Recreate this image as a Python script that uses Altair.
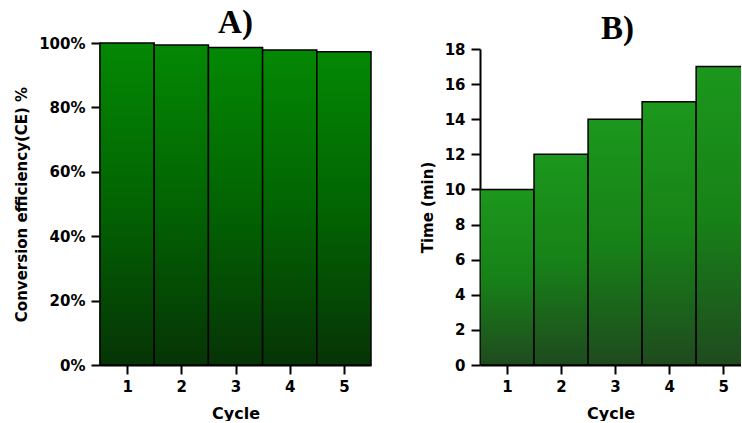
import altair as alt
import pandas as pd

cycles = [1, 2, 3, 4, 5]
efficiency = [1.000, 0.994, 0.986, 0.978, 0.973]
time_min = [10, 12, 14, 15, 17]
ticks_a = [0, 0.2, 0.4, 0.6, 0.8, 1.0]
ticks_b = [0, 2, 4, 6, 8, 10, 12, 14, 16, 18]

df_a = pd.DataFrame({"cycle": cycles, "ce": efficiency})
df_b = pd.DataFrame({"cycle": cycles, "time": time_min})

grad_a = alt.Gradient(
    gradient="linear", x1=0, x2=0, y1=0, y2=1,
    stops=[alt.GradientStop(color="#048804", offset=0),
           alt.GradientStop(color="#026402", offset=0.5),
           alt.GradientStop(color="#063406", offset=1)])
grad_b = alt.Gradient(
    gradient="linear", x1=0, x2=0, y1=0, y2=1,
    stops=[alt.GradientStop(color="#1c971c", offset=0),
           alt.GradientStop(color="#178217", offset=0.5),
           alt.GradientStop(color="#1f4a1f", offset=1)])

AX = dict(grid=False, tickSize=9, tickWidth=2, domainWidth=2, labelOverlap=False,
          labelFont="DejaVu Sans", labelFontWeight="bold", labelFontSize=15,
          labelColor="black", titleFont="DejaVu Sans", titleFontWeight="bold",
          titleColor="black", tickColor="black", domainColor="black")


def x_enc(hi):
    return alt.X("x0:Q", scale=alt.Scale(domain=[0.5, hi], nice=False, zero=False),
                 axis=alt.Axis(values=cycles, format="d", title="Cycle",
                               labelPadding=5, titlePadding=11, titleFontSize=16, **AX))


panel_a = alt.Chart(df_a).transform_calculate(
    x0="datum.cycle - 0.5", x1="datum.cycle + 0.5"
).mark_bar(color=grad_a, stroke="black", strokeWidth=1.5).encode(
    x=x_enc(5.5), x2="x1:Q",
    y=alt.Y("ce:Q", scale=alt.Scale(domain=[0, 1], nice=False),
            axis=alt.Axis(values=ticks_a, format=".0%",
                          title="Conversion efficiency(CE) %", labelPadding=6,
                          titlePadding=9, titleFontSize=15, **AX)),
    y2=alt.datum(0),
).properties(
    width=271, height=322,
    title=alt.TitleParams("A)", font="Liberation Serif", fontSize=33,
                          fontWeight="bold", color="black", offset=-4))

panel_b = alt.Chart(df_b).transform_calculate(
    x0="datum.cycle - 0.5", x1="datum.cycle + 0.5"
).mark_bar(color=grad_b, stroke="black", strokeWidth=1.5, clip=True).encode(
    x=x_enc(5.33), x2="x1:Q",
    y=alt.Y("time:Q", scale=alt.Scale(domain=[0, 18], nice=False, range=[322, 6]),
            axis=alt.Axis(values=ticks_b, format="d", title="Time (min)",
                          labelPadding=6, titlePadding=9, titleFontSize=15, **AX)),
    y2=alt.datum(0),
).properties(
    width=261, height=322,
    title=alt.TitleParams("B)", font="Liberation Serif", fontSize=33,
                          fontWeight="bold", color="black", offset=-4, dx=7))

chart = alt.hconcat(panel_a, panel_b, spacing=48).properties(
    padding={"left": 14, "top": 7, "right": 0, "bottom": 0},
    background="white",
).configure_view(stroke=None, strokeWidth=0)

chart.save("out.html", embed_options={"renderer": "svg", "actions": False})
